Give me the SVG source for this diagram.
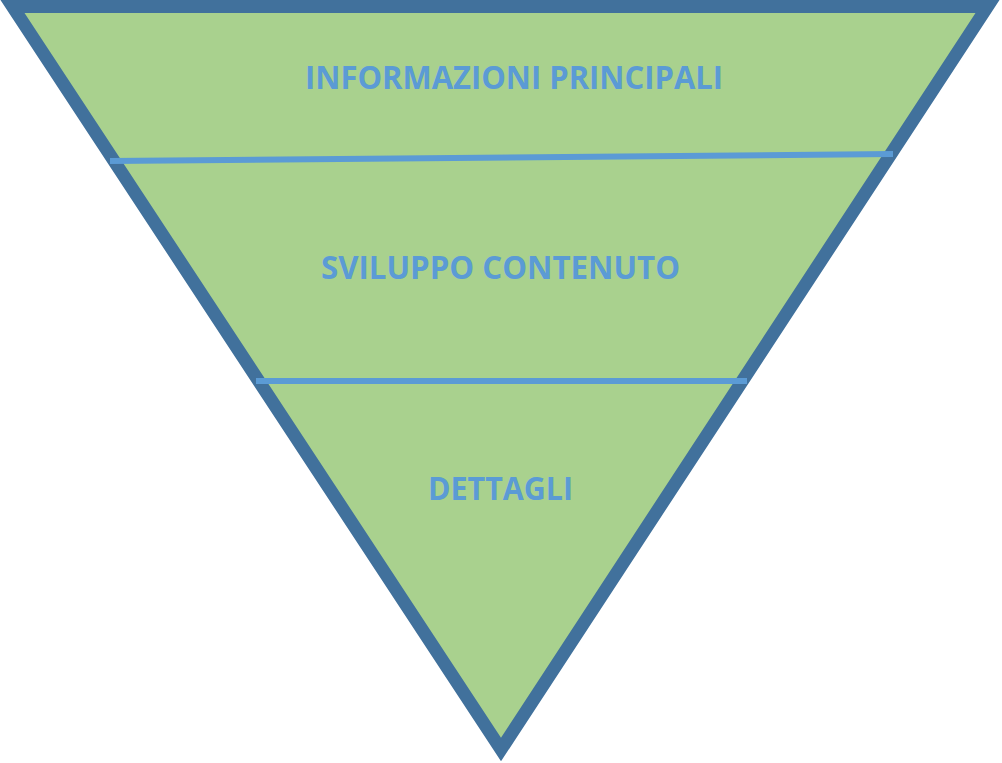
<svg xmlns="http://www.w3.org/2000/svg" width="1002" height="763" viewBox="0 0 1002 763">
<style>
.lbl{font-family:"Open Sans","Liberation Sans",Arial,sans-serif;font-weight:bold;font-size:33px;fill:#5B9BD5;text-anchor:middle}
.div{stroke:#5B9BD5;stroke-width:6;fill:none}
</style>
<rect width="1002" height="763" fill="#ffffff"/>
<g id="funnel">
<polygon points="12.5,6.5 987.5,6.5 501,749.5" fill="#A9D18E" stroke="#41719C" stroke-width="13" stroke-linejoin="miter" stroke-miterlimit="10"/>
</g>
<g id="connectors">
<line class="div" x1="110" y1="161" x2="893" y2="154"/>
<line class="div" x1="256" y1="381" x2="747" y2="381"/>
</g>
<g id="node-informazioni">
<text class="lbl" x="514" y="89" textLength="418" lengthAdjust="spacingAndGlyphs">INFORMAZIONI PRINCIPALI</text>
</g>
<g id="node-sviluppo">
<text class="lbl" x="500.5" y="279" textLength="359" lengthAdjust="spacingAndGlyphs">SVILUPPO CONTENUTO</text>
</g>
<g id="node-dettagli">
<text class="lbl" x="500.5" y="500" textLength="145" lengthAdjust="spacingAndGlyphs">DETTAGLI</text>
</g>
</svg>
